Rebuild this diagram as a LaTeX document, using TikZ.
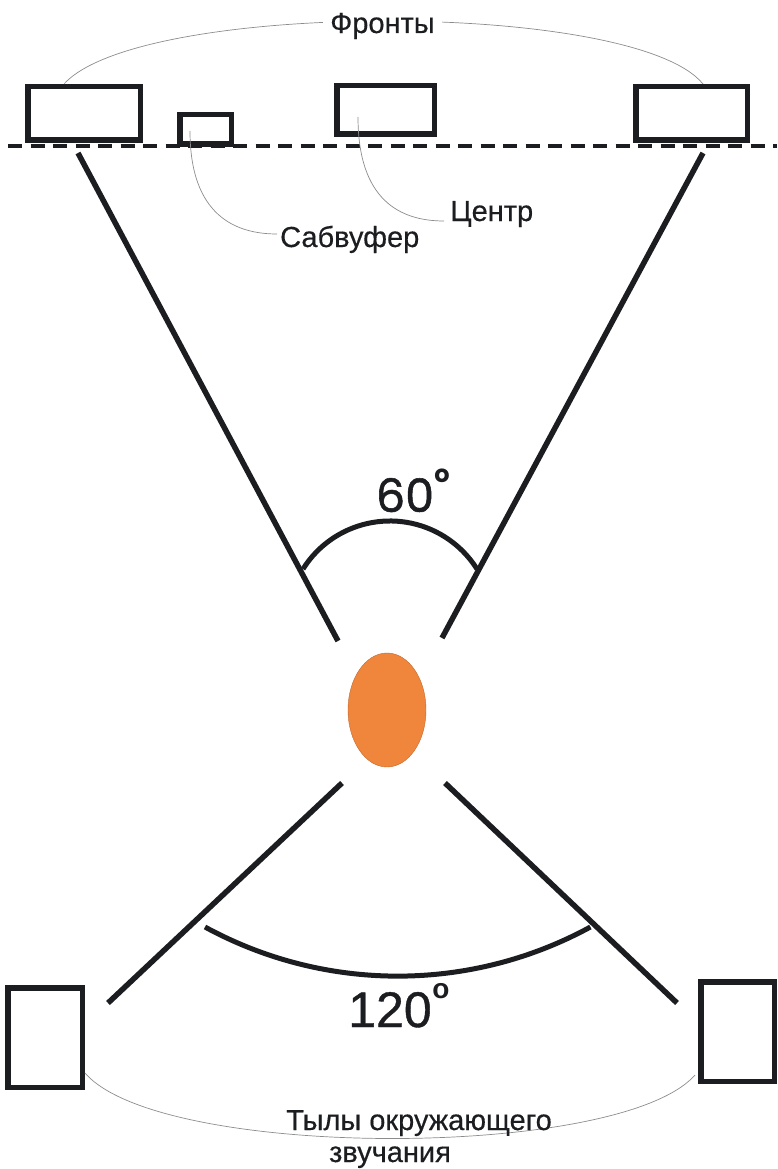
\documentclass[tikz,border=0pt]{standalone}
\usepackage{fontspec}
\setmainfont{Liberation Sans}
\newfontfamily\popfont[FakeBold=1.2]{Poppins}
\newfontfamily\popbold{Poppins}
\newfontfamily\lblfont[FakeBold=0.4]{Liberation Sans}
\newfontfamily\numfont[FakeBold=0.8]{Liberation Sans}
\usetikzlibrary{shapes.geometric}
\definecolor{ink}{HTML}{1B1D20}
\definecolor{listener}{HTML}{F0853C}
\definecolor{thin}{HTML}{8C8C8C}
\begin{document}
\begin{tikzpicture}[x=1pt,y=-1pt,
  spk/.style={draw=ink, line width=5.5pt, rectangle, inner sep=0pt},
  ray/.style={draw=ink, line width=5.5pt},
  anglearc/.style={draw=ink, line width=5pt},
  pointer/.style={draw=thin, line width=0.7pt},
  lbl/.style={text=ink, font=\lblfont\fontsize{29}{30}\selectfont, inner sep=0pt},
  baseline/.style={draw=ink, line width=3.2pt, dash pattern=on 14pt off 8.5pt},
]
\useasboundingbox (0,0) rectangle (777,1169);

% front speakers
\node[spk, minimum width=112.5pt, minimum height=53.5pt] (fl) at (84,113.5) {};
\node[spk, minimum width=51.5pt, minimum height=29.5pt] (sub) at (205.5,129.5) {};
\node[spk, minimum width=97.5pt, minimum height=48.5pt] (c) at (385.5,110) {};
\node[spk, minimum width=111.5pt, minimum height=53.5pt] (fr) at (691.5,113.5) {};

% dashed front line
\coordinate (dl) at (8,146);
\coordinate (dr) at (777,146);
\draw[baseline] (dl) -- (dr);

% rear speakers
\node[spk, minimum width=74.5pt, minimum height=99.5pt] (rl) at (45,1037.5) {};
\node[spk, minimum width=73.5pt, minimum height=99.5pt] (rr) at (737.5,1031.5) {};

% listener
\node[ellipse, fill=listener, draw=listener!80!black, line width=0.4pt,
      minimum width=78pt, minimum height=114pt, inner sep=0pt] (lis) at (387,710) {};

% rays
\coordinate (ulS) at (78,153);
\coordinate (ulE) at (338,641);
\coordinate (urS) at (703,153);
\coordinate (urE) at (442,638);
\coordinate (llS) at (342,783);
\coordinate (llE) at (108,1003);
\coordinate (lrS) at (445,783);
\coordinate (lrE) at (677,1003);
\draw[ray] (ulS) -- (ulE);
\draw[ray] (urS) -- (urE);
\draw[ray] (llS) -- (llE);
\draw[ray] (lrS) -- (lrE);

% angle arcs
\coordinate (a60s) at (303,569);
\draw[anglearc] (a60s) arc[start angle=147.8, end angle=32.2, radius=102.8pt];
\coordinate (a120s) at (205,927);
\draw[anglearc] (a120s) arc[start angle=241.4, end angle=298.6, radius=402.6pt];

% angle labels
\node[anchor=base, inner sep=0pt, text=ink, font=\popfont\fontsize{46}{46}\selectfont] (t60) at (405,512) {60};
\node[inner sep=0pt, text=ink, font=\popbold\bfseries\fontsize{24}{24}\selectfont] (d60) at (442,476) {o};
\node[anchor=base, inner sep=0pt, text=ink, font=\numfont\fontsize{50}{50}\selectfont] (t120) at (390,1027) {120};
\node[inner sep=0pt, text=ink, font=\bfseries\fontsize{28}{28}\selectfont] (d120) at (441,991) {o};

% front arc and label
\draw[pointer] ([xshift=39pt]fl.north west) .. controls (140,0) and (635,0) .. ([xshift=70pt]fr.north west);
\node[lbl, anchor=base, fill=white, inner xsep=7pt] (front) at (382.5,33) {Фронты};

% centre and subwoofer labels
\node[lbl, anchor=base west] (clab) at (450,221) {Центр};
\node[lbl, anchor=base west] (slab) at (280,247) {Сабвуфер};
\draw[pointer] ([xshift=-15.5pt,yshift=-1.5pt]sub.center) .. controls (190,215) and (235,234) .. ([xshift=-3pt,yshift=13pt]slab.base west);
\draw[pointer] ([xshift=-27.5pt,yshift=-7pt]c.center) .. controls (358,200) and (400,221) .. ([xshift=-6pt]clab.base west);

% rear arc and label
\draw[pointer] ([yshift=-35.5pt]rl.east) .. controls (160,1160) and (620,1160) .. ([xshift=-3pt,yshift=-43.5pt]rr.west);
\node[lbl, anchor=base] (rear1) at (419,1130) {Тылы окружающего};
\node[lbl, anchor=base] (rear2) at (390,1162) {звучания};
\end{tikzpicture}
\end{document}
